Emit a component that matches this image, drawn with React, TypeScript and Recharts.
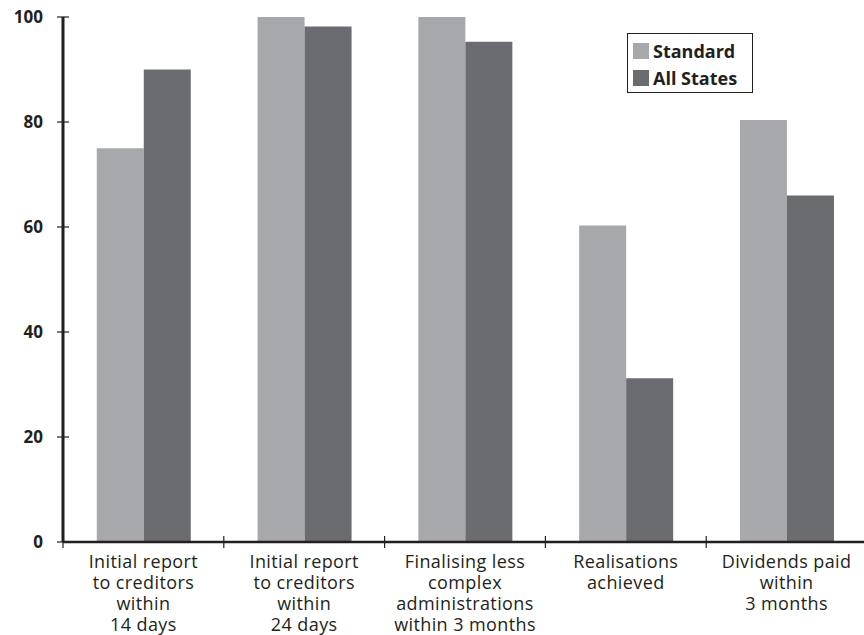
import React from 'react';
import { BarChart, Bar, XAxis, YAxis, Legend } from 'recharts';

const categories = [
  'Initial report\nto creditors\nwithin\n14 days',
  'Initial report\nto creditors\nwithin\n24 days',
  'Finalising less\ncomplex\nadministrations\nwithin 3 months',
  'Realisations\nachieved',
  'Dividends paid\nwithin\n3 months',
];
const standardValues = [75, 100, 100, 60.3, 80.4];
const allStatesValues = [90, 98.2, 95.3, 31.2, 66];
const yTicks = [0, 20, 40, 60, 80, 100];

const data = categories.map((c, i) => ({ name: c, standard: standardValues[i], allStates: allStatesValues[i] }));

const W = 864;
const H = 635;
const Y_W = 63;
const MARGIN = { top: 17, right: -3, left: 0, bottom: 0 };
const HALF_BAND = (W - Y_W - MARGIN.left - MARGIN.right) / categories.length / 2;
const INK = '#231f20';
const FONT = '"Open Sans", Lato, sans-serif';
const C_STD = '#a7a8ab';
const C_ALL = '#6b6c70';

const YTick = (props: any) => {
  const { x, y, payload } = props;
  return (
    <g>
      <line x1={x + 13} x2={x + 25} y1={y} y2={y} stroke={INK} strokeWidth={1.2} />
      <text x={x - 1} y={y} dy={6} textAnchor="end" fontFamily={FONT} fontWeight="bold" fontSize={17} fill={INK}>
        {payload.value}
      </text>
    </g>
  );
};

const XTick = (props: any) => {
  const { x, y, payload } = props;
  const lines = String(payload.value).split('\n');
  const bx = x - HALF_BAND;
  return (
    <g>
      <line x1={bx} x2={bx} y1={y - 18} y2={y - 6} stroke={INK} strokeWidth={1.2} />
      <text x={x} y={y + 14} textAnchor="middle" fontFamily={FONT} fontSize={18} letterSpacing={0.4} fill={INK}>
        {lines.map((l, i) => (
          <tspan key={i} x={x} dy={i === 0 ? 0 : 21}>{l}</tspan>
        ))}
      </text>
    </g>
  );
};

const LegendBox = () => (
  <div style={{ border: `1px solid ${INK}`, width: 126, height: 60, boxSizing: 'border-box', padding: '6px 0 0 5px', fontFamily: FONT, fontWeight: 'bold', fontSize: 18, color: INK, background: '#fff', textAlign: 'left', lineHeight: '22px' }}>
    {[['Standard', C_STD], ['All States', C_ALL]].map(([label, color]) => (
      <div key={label} style={{ display: 'flex', alignItems: 'center', height: 22, marginBottom: 5 }}>
        <span style={{ display: 'inline-block', width: 16, height: 16, background: color, marginRight: 4 }} />
        <span>{label}</span>
      </div>
    ))}
  </div>
);

export default function App() {
  return (
    <div style={{ position: 'absolute', left: 0, top: 0, width: W, height: H, background: '#fff' }}>
      <BarChart width={W} height={H} data={data} margin={MARGIN} barCategoryGap="21%" barGap={0}>
        <XAxis
          dataKey="name"
          interval={0}
          height={93}
          tickLine={false}
          tickSize={6}
          tickMargin={6}
          tick={<XTick />}
          axisLine={{ stroke: INK, strokeWidth: 2.5 }}
        />
        <YAxis
          width={Y_W}
          domain={[0, 100]}
          ticks={yTicks}
          tickLine={false}
          tickSize={6}
          tickMargin={13}
          tick={<YTick />}
          axisLine={{ stroke: INK, strokeWidth: 3 }}
        />
        <Legend
          content={<LegendBox />}
          layout="horizontal"
          verticalAlign="middle"
          align="center"
          wrapperStyle={{ position: 'absolute', left: 627, top: 33, width: 126, height: 60 }}
        />
        <Bar dataKey="standard" name="Standard" fill={C_STD} isAnimationActive={false} />
        <Bar dataKey="allStates" name="All States" fill={C_ALL} isAnimationActive={false} />
      </BarChart>
    </div>
  );
}
